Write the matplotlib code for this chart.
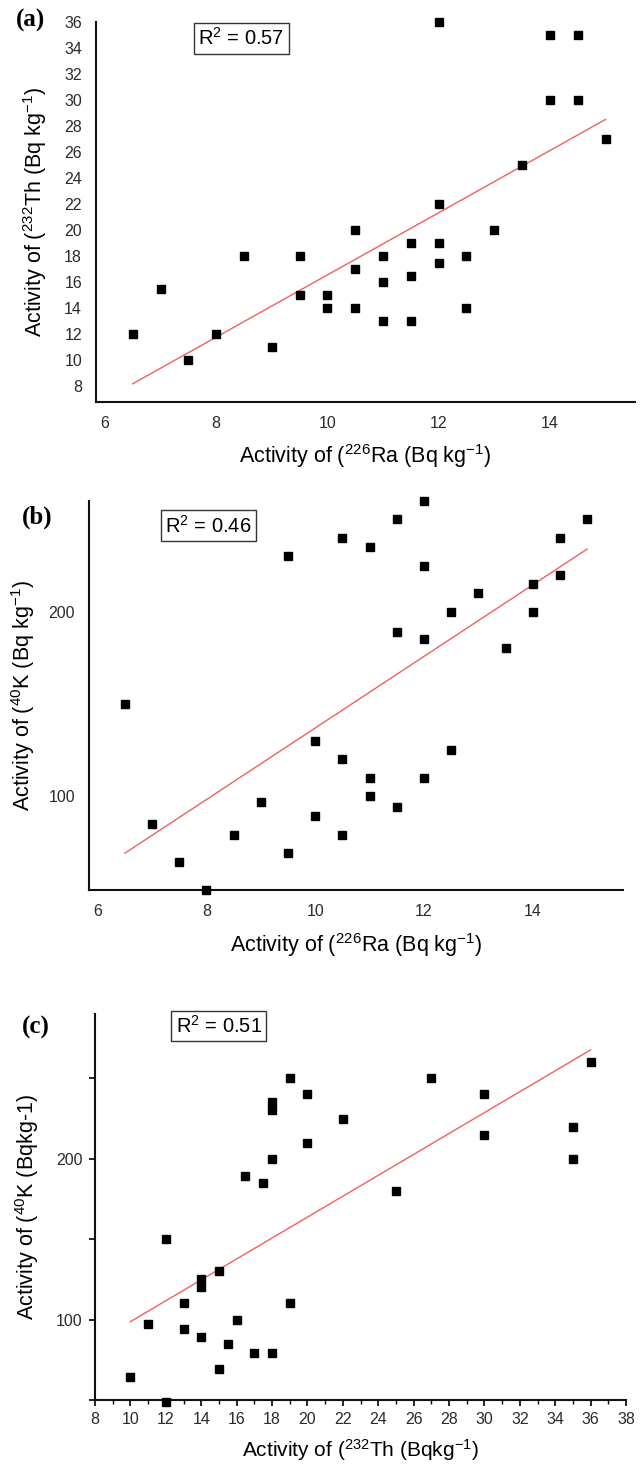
import numpy as np
import matplotlib
matplotlib.use("Agg")
import matplotlib.pyplot as plt
from matplotlib.ticker import MultipleLocator, FixedLocator, NullFormatter

plt.rcParams["font.family"] = ["Liberation Sans", "DejaVu Sans"]
plt.rcParams["mathtext.fontset"] = "custom"
plt.rcParams["mathtext.rm"] = "Liberation Sans"
plt.rcParams["mathtext.it"] = "Liberation Sans:italic"
plt.rcParams["mathtext.default"] = "regular"

# one entry per sample: 226Ra, 232Th, 40K activities (Bq/kg)
ra = [6.5, 7, 7.5, 8, 8.5, 9, 9.5, 9.5, 10, 10, 10.5, 10.5, 10.5, 11, 11, 11,
      11.5, 11.5, 11.5, 12, 12, 12, 12, 12.5, 12.5, 13, 13.5, 14, 14, 14.5, 14.5, 15]
th = [12, 15.5, 10, 12, 18, 11, 18, 15, 15, 14, 20, 17, 14, 18, 16, 13,
      19, 16.5, 13, 36, 22, 19, 17.5, 18, 14, 20, 25, 35, 30, 35, 30, 27]
k40 = [150, 85, 64, 49, 79, 97, 230, 69, 130, 89, 240, 79, 120, 235, 100, 110,
       250, 189, 94, 260, 225, 110, 185, 200, 125, 210, 180, 200, 215, 220, 240, 250]

r2_labels = ["0.57", "0.46", "0.51"]

W, H = 640, 1464
LABEL_FS = 15.5
TICK_FS = 11.5
fig = plt.figure(figsize=(W / 100, H / 100), dpi=100)


def px_axes(left, right, top, bottom):
    return fig.add_axes([left / W, 1 - bottom / H, (right - left) / W, (bottom - top) / H])


def style(ax):
    for s in ["top", "right"]:
        ax.spines[s].set_visible(False)
    for s in ["left", "bottom"]:
        ax.spines[s].set_linewidth(1.5)
        ax.spines[s].set_color("#111111")
    ax.tick_params(labelsize=TICK_FS, labelcolor="#2a2a2a")


def scatter_fit(ax, x, y):
    x = np.asarray(x, float)
    y = np.asarray(y, float)
    slope, icpt = np.polyfit(x, y, 1)
    xs = np.array([x.min(), x.max()])
    ax.plot(xs, slope * xs + icpt, color="#f06060", lw=1.0, zorder=2)
    ax.plot(x, y, "s", color="black", ms=6.3, ls="none", clip_on=False, zorder=3)


def r2_box(ax, xf, yf, txt):
    ax.text(xf, yf, "R$^2$ = " + txt, transform=ax.transAxes, fontsize=14.5,
            ha="left", va="center",
            bbox=dict(boxstyle="square,pad=0.22", fc="white", ec="#333333", lw=1.0))


# ---- (a) Th vs Ra
ax1 = px_axes(96, 635, 22, 402)
scatter_fit(ax1, ra, th)
ax1.set_xlim(5.84, 15.53)
ax1.set_ylim(6.77, 36.0)
ax1.set_xticks([6, 8, 10, 12, 14])
ax1.set_yticks(np.arange(8, 37, 2))
style(ax1)
ax1.tick_params(length=0, pad=10)
ax1.set_xlabel("Activity of ($^{226}$Ra (Bq kg$^{-1}$)", fontsize=LABEL_FS, va="top")
ax1.xaxis.set_label_coords(0.5, -0.105)
ax1.set_ylabel("Activity of ($^{232}$Th (Bq kg$^{-1}$)", fontsize=LABEL_FS)
ax1.yaxis.set_label_coords(-0.087, 0.5)
r2_box(ax1, 0.19, 0.957, r2_labels[0])

# ---- (b) K vs Ra
ax2 = px_axes(89, 623, 501, 890)
scatter_fit(ax2, ra, k40)
ax2.set_xlim(5.84, 15.66)
ax2.set_ylim(49, 260)
ax2.set_xticks([6, 8, 10, 12, 14])
ax2.set_yticks([100, 200])
style(ax2)
ax2.tick_params(length=0, pad=10)
ax2.set_xlabel("Activity of ($^{226}$Ra (Bq kg$^{-1}$)", fontsize=LABEL_FS, va="top")
ax2.xaxis.set_label_coords(0.5, -0.105)
ax2.set_ylabel("Activity of ($^{40}$K (Bq kg$^{-1}$)", fontsize=LABEL_FS)
ax2.yaxis.set_label_coords(-0.097, 0.5)
r2_box(ax2, 0.143, 0.937, r2_labels[1])

# ---- (c) K vs Th
ax3 = px_axes(95, 626, 1014, 1400)
scatter_fit(ax3, th, k40)
ax3.set_xlim(8, 38)
ax3.set_ylim(50, 290)
ax3.xaxis.set_major_locator(MultipleLocator(2))
ax3.xaxis.set_minor_locator(MultipleLocator(1))
ax3.yaxis.set_major_locator(FixedLocator([100, 200]))
ax3.yaxis.set_minor_locator(FixedLocator([50, 150, 250]))
ax3.yaxis.set_minor_formatter(NullFormatter())
style(ax3)
ax3.tick_params(which="major", length=4, width=1.2, pad=5, direction="out")
ax3.tick_params(which="minor", length=3, width=1.0, direction="out")
ax3.tick_params(axis="y", which="minor", length=4, width=1.2)
ax3.set_xlabel("Activity of ($^{232}$Th (Bqkg$^{-1}$)", fontsize=LABEL_FS - 0.5, va="bottom")
ax3.xaxis.set_label_coords(0.5, -63 / 386)
ax3.set_ylabel("Activity of ($^{40}$K (Bqkg-1)", fontsize=LABEL_FS)
ax3.yaxis.set_label_coords(-0.101, 0.5)
r2_box(ax3, 0.152, 0.969, r2_labels[2])

# panel letters
for lbl, xp, yp in [("(a)", 16, 20), ("(b)", 22, 517), ("(c)", 22, 1027)]:
    fig.text(xp / W, 1 - yp / H, lbl, fontsize=18, fontweight="bold",
             family="Liberation Serif", ha="left", va="center")

fig.savefig("out.png", dpi=100)
